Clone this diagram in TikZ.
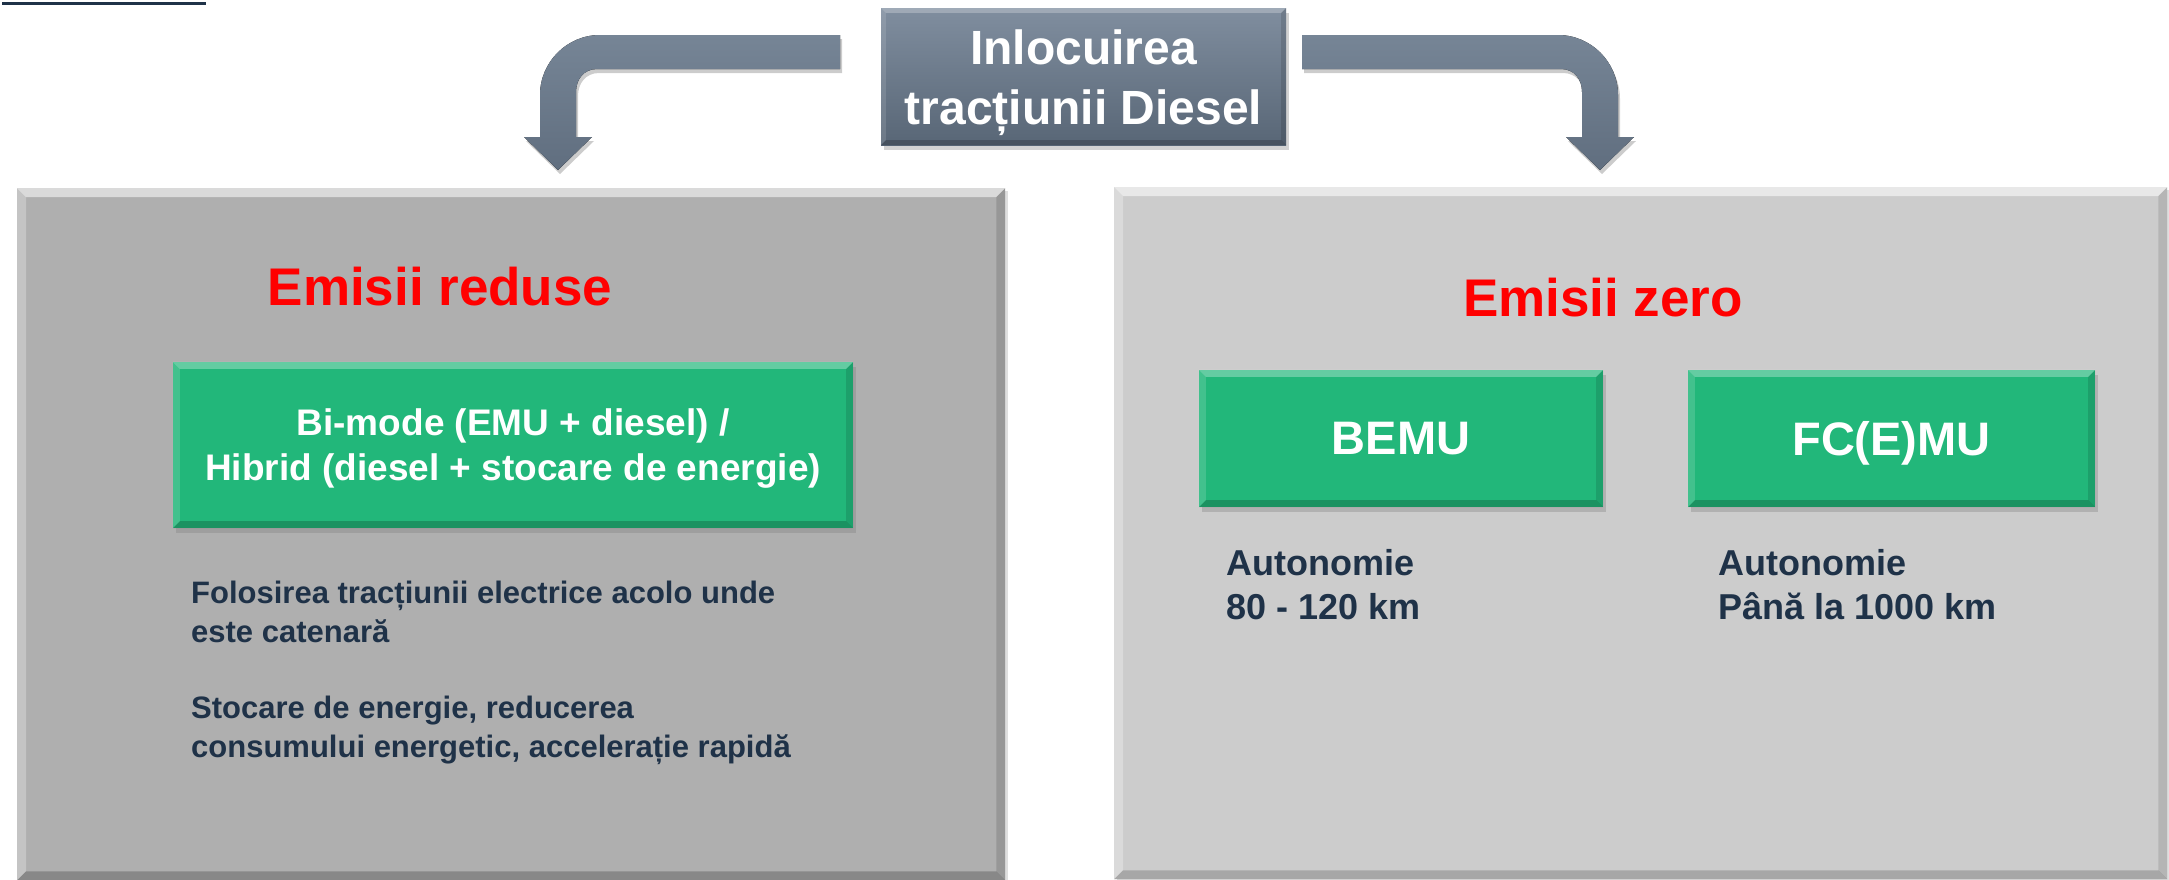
\documentclass[tikz,border=0pt]{standalone}
\usepackage{fontspec}
\setmainfont{Liberation Sans}
\usetikzlibrary{calc,shadows}
\definecolor{panelL}{RGB}{175,175,175}
\definecolor{panelR}{RGB}{204,204,204}
\definecolor{greenbox}{RGB}{34,183,122}
\definecolor{slateT}{RGB}{128,142,159}
\definecolor{slateB}{RGB}{88,102,118}
\definecolor{arrowT}{RGB}{118,133,150}
\definecolor{arrowB}{RGB}{96,110,127}
\definecolor{navy}{RGB}{31,50,72}
\newcommand\mybevel[4]{% node, size, top opacity, bottom opacity
  \fill[white,opacity=#3] (#1.north west) -- (#1.north east) -- ($(#1.north east)+(-#2,#2)$) -- ($(#1.north west)+(#2,#2)$) -- cycle;
  \fill[white,opacity=#3*0.5] (#1.north west) -- ($(#1.north west)+(#2,#2)$) -- ($(#1.south west)+(#2,-#2)$) -- (#1.south west) -- cycle;
  \fill[black,opacity=#4*0.6] (#1.north east) -- (#1.south east) -- ($(#1.south east)+(-#2,-#2)$) -- ($(#1.north east)+(-#2,#2)$) -- cycle;
  \fill[black,opacity=#4] (#1.south west) -- ($(#1.south west)+(#2,-#2)$) -- ($(#1.south east)+(-#2,-#2)$) -- (#1.south east) -- cycle;
}
\tikzset{
  panelbox/.style={draw=none, inner sep=0pt, anchor=north west,
    drop shadow={opacity=0.25, shadow xshift=3pt, shadow yshift=-3pt}},
  greenrect/.style={fill=greenbox, draw=none, inner sep=0pt, text=white,
    drop shadow={opacity=0.35, shadow xshift=3pt, shadow yshift=-5pt}},
  titlebox/.style={top color=slateT, bottom color=slateB, draw=none, inner sep=0pt,
    drop shadow={opacity=0.35, shadow xshift=3pt, shadow yshift=-5pt}},
  titletext/.style={text=white, align=center, inner sep=0pt, font=\fontsize{48}{60}\selectfont\bfseries},
  blockarrow/.style={top color=arrowT, bottom color=arrowB, draw=none},
  arrowshadow/.style={fill=black, opacity=0.2},
  redhead/.style={text=red, font=\fontsize{53}{60}\selectfont\bfseries, anchor=base, inner sep=0pt},
  bodytext/.style={text=navy, font=\fontsize{31}{38}\selectfont\bfseries, anchor=base west, inner sep=0pt},
  autotext/.style={text=navy, font=\fontsize{36}{44}\selectfont\bfseries, anchor=base west, inner sep=0pt},
  whitetext/.style={text=white, font=\fontsize{37}{45}\selectfont\bfseries, align=center, inner sep=0pt},
  bigwhite/.style={font=\fontsize{47}{56}\selectfont\bfseries, text depth=0pt}
}
\newcommand\leftarrowpath{(840,35) -- (600,35) .. controls (567,35) and (540,62) .. (540,95)
  -- (540,137) -- (524,137) -- (558,170) -- (592,137) -- (576,137) -- (576,92)
  .. controls (576,79) and (584,69) .. (597,69) -- (840,69) -- cycle}
\newcommand\rightarrowpath{(1302,35) -- (1558,35) .. controls (1591,35) and (1618,62) .. (1618,95)
  -- (1618,137) -- (1634,137) -- (1600,170) -- (1566,137) -- (1582,137) -- (1582,92)
  .. controls (1582,79) and (1574,69) .. (1561,69) -- (1302,69) -- cycle}
\begin{document}
\begin{tikzpicture}[x=1pt,y=-1pt]
\useasboundingbox (0,0) rectangle (2169,879);
\fill[white] (0,0) rectangle (2169,879);

% top-left line
\coordinate (ls) at (2,3.5);
\coordinate (le) at (206,3.5);
\draw[navy, line width=3.5pt] (ls) -- (le);

% panels
\node[panelbox, fill=panelL, minimum width=988pt, minimum height=692pt] (pL) at (17,188) {};
\mybevel{pL}{9}{0.55}{0.22}
\node[panelbox, fill=panelR, minimum width=1053pt, minimum height=692pt] (pR) at (1114,187) {};
\mybevel{pR}{9}{0.55}{0.18}

% title
\node[titlebox, minimum width=405pt, minimum height=137pt] (title) at (1083.5,76.5) {};
\mybevel{title}{5}{0.25}{0.2}
\node[titletext] (titlet) at ($(title.center)+(0,6)$) {Inlocuirea\\tracțiunii Diesel};

% block arrows
\begin{scope}[shift={(2,4)}]
\fill[arrowshadow] \leftarrowpath;
\fill[arrowshadow] \rightarrowpath;
\end{scope}
\fill[blockarrow] \leftarrowpath;
\fill[blockarrow] \rightarrowpath;

% headings
\node[redhead] (hL) at (440,305) {Emisii reduse};
\node[redhead] (hR) at (1603,316) {Emisii zero};

% green boxes
\node[greenrect, minimum width=680pt, minimum height=166pt] (gL) at (513,445) {};
\mybevel{gL}{7}{0.3}{0.2}
\node[whitetext] (gLt) at (513,449) {Bi-mode (EMU + diesel) /\\Hibrid (diesel + stocare de energie)};

\node[greenrect, bigwhite, minimum width=404pt, minimum height=137pt] (bemu) at (1401,438.5) {BEMU};
\mybevel{bemu}{7}{0.3}{0.2}
\node[greenrect, bigwhite, minimum width=407pt, minimum height=137pt] (fcemu) at (1891.5,438.5) {FC(E)MU};
\mybevel{fcemu}{7}{0.3}{0.2}

% left texts
\node[bodytext] (t1) at (191,603) {Folosirea tracțiunii electrice acolo unde};
\node[bodytext] (t2) at (191,642) {este catenară};
\node[bodytext] (t3) at (191,718) {Stocare de energie, reducerea};
\node[bodytext] (t4) at (191,757) {consumului energetic, accelerație rapidă};

% right texts
\node[autotext] (a1) at (1226,575) {Autonomie};
\node[autotext] (a2) at (1226,619) {80 - 120 km};
\node[autotext] (a3) at (1718,575) {Autonomie};
\node[autotext] (a4) at (1718,619) {Până la 1000 km};
\end{tikzpicture}
\end{document}
